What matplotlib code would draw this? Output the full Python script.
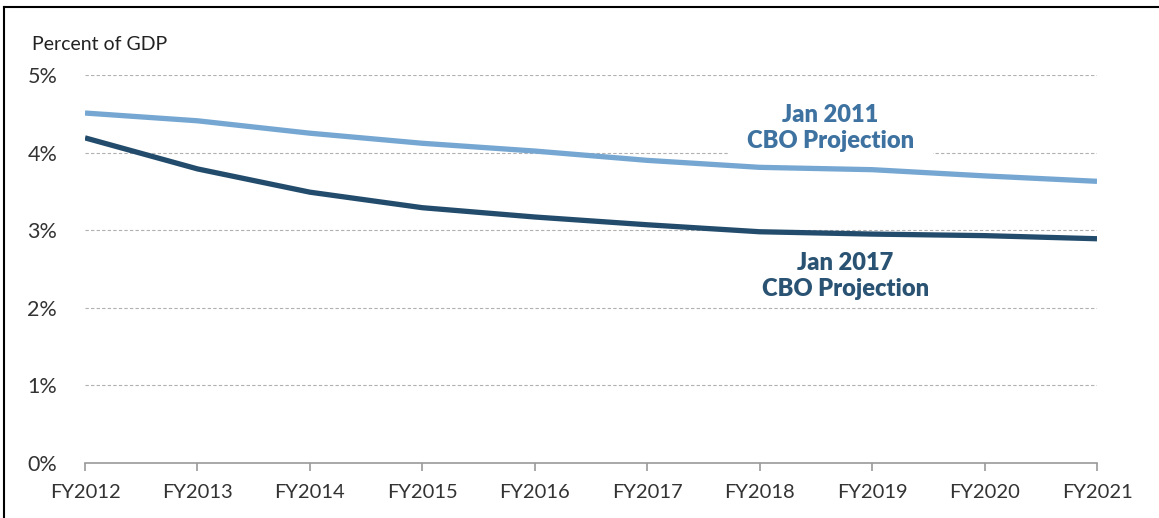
import numpy as np
import matplotlib.pyplot as plt
from matplotlib.lines import Line2D

# dados
anos = ['FY2012', 'FY2013', 'FY2014', 'FY2015', 'FY2016',
        'FY2017', 'FY2018', 'FY2019', 'FY2020', 'FY2021']
cbo_2011 = [4.51, 4.41, 4.25, 4.12, 4.02, 3.90, 3.81, 3.78, 3.70, 3.63]
cbo_2017 = [4.19, 3.79, 3.49, 3.29, 3.17, 3.07, 2.98, 2.95, 2.93, 2.89]
yticks = [0, 1, 2, 3, 4, 5]

plt.rcParams['font.family'] = ['Lato', 'DejaVu Sans']

fig = plt.figure(figsize=(11.59, 5.18), dpi=100)
ax = fig.add_axes([85/1159, 55/518, 1012/1159, 388/518])

x = np.arange(len(anos))
ax.plot(x, cbo_2011, color='#75a7d2', lw=3.8, solid_capstyle='butt', zorder=3)
ax.plot(x, cbo_2017, color='#234c6c', lw=3.8, solid_capstyle='butt', zorder=3)

ax.set_xlim(0, len(anos) - 1)
ax.set_ylim(0, 5)
ax.set_xticks(x)
ax.set_xticklabels(anos, fontsize=14.5, color='#333333')
ax.set_yticks(yticks)
ax.set_yticklabels(['{}%'.format(v) for v in yticks], fontsize=15.5, color='#333333')

for v in yticks[1:]:
    ax.axhline(v, color='#b0b0b0', lw=0.8, ls=(0, (3, 2)), zorder=1)

for s in ['left', 'right', 'top']:
    ax.spines[s].set_visible(False)
ax.spines['bottom'].set_color('#9a9a9a')
ax.spines['bottom'].set_linewidth(1.2)
ax.tick_params(axis='x', direction='out', length=6, width=1.2, color='#9a9a9a', pad=9)
ax.tick_params(axis='y', length=0, pad=20)

# caixa branca fica acima da grade e abaixo das linhas
ax.text(6.63, 4.32, 'Jan 2011\nCBO Projection', ha='center', va='center',
        fontsize=17, fontweight='heavy', color='#3e72a0', linespacing=1.2,
        bbox=dict(facecolor='white', edgecolor='none', pad=14), zorder=2)
ax.text(6.76, 2.41, 'Jan 2017\nCBO Projection', ha='center', va='center',
        fontsize=17, fontweight='heavy', color='#2a5373', linespacing=1.2,
        bbox=dict(facecolor='white', edgecolor='none', pad=2), zorder=2)

fig.text(32/1159, 1 - 44/518, 'Percent of GDP', fontsize=14, color='#222222',
         ha='left', va='center')

# moldura
fig.add_artist(Line2D([4/1159, 4/1159], [0, 1 - 7/518], color='black', lw=1.5))
fig.add_artist(Line2D([4/1159, 1], [1 - 7/518, 1 - 7/518], color='black', lw=1.5))

fig.savefig('out.png', dpi=100)
